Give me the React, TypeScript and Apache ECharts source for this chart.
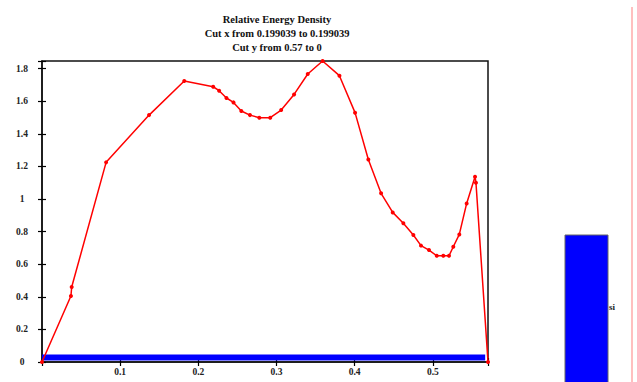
import React, { useEffect, useRef } from "react";
import * as echarts from "echarts";

// Relative energy density along the cut (x position, density)
const cutX = [
  0, 0.037, 0.038, 0.082, 0.137, 0.182, 0.219, 0.2266, 0.236, 0.245, 0.255,
  0.266, 0.278, 0.292, 0.306, 0.3225, 0.34, 0.359, 0.3805, 0.4005, 0.4175,
  0.4338, 0.4487, 0.4623, 0.4751, 0.4849, 0.4951, 0.505, 0.5134, 0.5207,
  0.5262, 0.5339, 0.5433, 0.554, 0.5552, 0.5706,
];
const density = [
  0, 0.405, 0.46, 1.225, 1.515, 1.724, 1.689, 1.665, 1.62, 1.593, 1.54,
  1.515, 1.499, 1.499, 1.546, 1.642, 1.767, 1.847, 1.757, 1.53, 1.243,
  1.035, 0.918, 0.851, 0.779, 0.714, 0.687, 0.652, 0.652, 0.652, 0.707,
  0.783, 0.973, 1.137, 1.1, 0,
];

// "si" band drawn along the floor of the plot
const siX = [0, 0.567];
const siLevel = [0.027, 0.027];

const xTickLabels = ["0.1", "0.2", "0.3", "0.4", "0.5"];
const yTickLabels = ["0", "0.2", "0.4", "0.6", "0.8", "1", "1.2", "1.4", "1.6", "1.8"];

const titleLines = [
  "Relative Energy Density",
  "Cut x from 0.199039 to 0.199039",
  "Cut y from 0.57 to 0",
];

const X_MIN = 0;
const X_MAX = 0.5706;
const Y_MIN = 0;
const Y_MAX = 1.847;

const SERIF = "'Liberation Serif', 'DejaVu Serif', serif";

function labelFor(list: string[], v: number): string {
  const hit = list.find((s) => Math.abs(parseFloat(s) - v) < 1e-6);
  return hit ?? "";
}

export default function App() {
  const ref = useRef<HTMLDivElement>(null);

  useEffect(() => {
    document.body.style.margin = "0";
    if (!ref.current) return;
    const chart = echarts.init(ref.current, null, { renderer: "svg" });

    const tickStyle = { inside: true, length: 4, lineStyle: { color: "#000", width: 1.2 } };
    const labelStyle = {
      fontFamily: SERIF,
      fontWeight: "bold" as const,
      fontSize: 9.5,
      color: "#222",
    };

    chart.setOption({
      animation: false,
      backgroundColor: "#fff",
      title: {
        text: titleLines.join("\n"),
        left: 272,
        top: 7,
        textAlign: "center",
        textStyle: {
          fontFamily: SERIF,
          fontWeight: "bold",
          fontSize: 10.5,
          lineHeight: 14,
          color: "#111",
        },
      },
      grid: {
        left: 42,
        right: 149,
        top: 61,
        bottom: 20,
        show: true,
        borderColor: "#111",
        borderWidth: 1.5,
        backgroundColor: "transparent",
      },
      xAxis: [
        {
          type: "value",
          min: X_MIN,
          max: X_MAX,
          interval: 0.1,
          position: "bottom",
          axisLine: { show: true, lineStyle: { color: "#111", width: 1.5 } },
          axisTick: tickStyle,
          splitLine: { show: false },
          axisLabel: {
            ...labelStyle,
            margin: 5,
            formatter: (v: number) => labelFor(xTickLabels, v),
          },
        },
        {
          type: "value",
          min: X_MIN,
          max: X_MAX,
          interval: 0.1,
          position: "top",
          axisLine: { show: false },
          axisTick: tickStyle,
          splitLine: { show: false },
          axisLabel: { show: false },
        },
      ],
      yAxis: [
        {
          type: "value",
          min: Y_MIN,
          max: Y_MAX,
          interval: 0.2,
          position: "left",
          axisLine: { show: true, lineStyle: { color: "#111", width: 1.5 } },
          axisTick: tickStyle,
          splitLine: { show: false },
          axisLabel: {
            ...labelStyle,
            align: "center",
            margin: 20,
            formatter: (v: number) => labelFor(yTickLabels, v),
          },
        },
        {
          type: "value",
          min: Y_MIN,
          max: Y_MAX,
          interval: 0.2,
          position: "right",
          axisLine: { show: false },
          axisTick: tickStyle,
          splitLine: { show: false },
          axisLabel: { show: false },
        },
      ],
      series: [
        {
          name: "si",
          type: "line",
          data: siX.map((x, i) => [x, siLevel[i]]),
          showSymbol: false,
          lineStyle: { color: "#0000ff", width: 6, cap: "butt" },
          z: 1,
        },
        {
          name: "Relative Energy Density",
          type: "line",
          data: cutX.map((x, i) => [x, density[i]]),
          symbol: "circle",
          symbolSize: 4,
          itemStyle: { color: "#ff0000" },
          lineStyle: { color: "#ff0000", width: 1.5 },
          clip: false,
          z: 3,
        },
      ],
      graphic: [
        {
          type: "rect",
          shape: { x: 565, y: 235, width: 43, height: 150 },
          style: { fill: "#0000ff", stroke: "#666", lineWidth: 1 },
        },
        {
          type: "text",
          x: 609,
          y: 307,
          style: {
            text: "si",
            font: `bold 9px ${SERIF}`,
            fill: "#222",
            verticalAlign: "middle",
          },
        },
        {
          type: "line",
          shape: { x1: 632, y1: 7, x2: 632, y2: 382 },
          style: { stroke: "#ffaaaa", lineWidth: 1.5 },
        },
      ],
    });

    return () => chart.dispose();
  }, []);

  return (
    <div
      ref={ref}
      style={{ position: "absolute", left: 0, top: 0, width: 637, height: 382 }}
    />
  );
}
